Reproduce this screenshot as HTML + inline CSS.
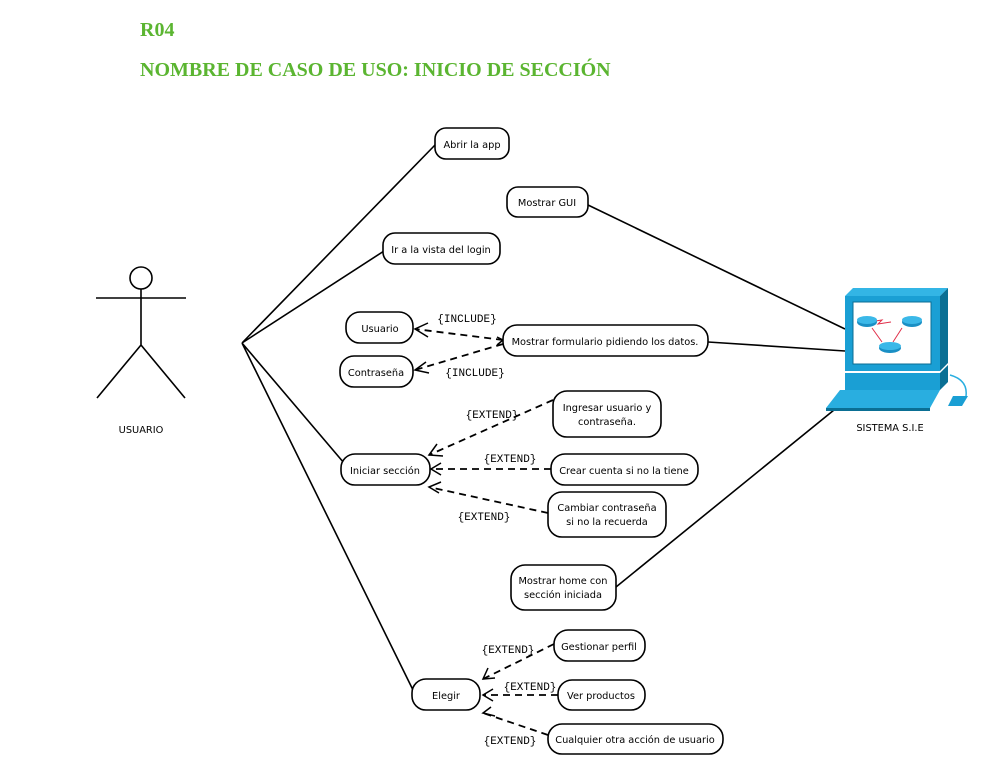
<!DOCTYPE html>
<html><head><meta charset="utf-8"><style>
body{margin:0;background:#fff;width:991px;height:768px;overflow:hidden}
svg{display:block}
.n{fill:#fff;stroke:#000;stroke-width:1.6}
.t{font-family:"DejaVu Sans","Liberation Sans",sans-serif;font-size:9.8px;fill:#000;text-anchor:middle}
.m{font-family:"Liberation Mono",monospace;font-size:11px;fill:#000;text-anchor:middle}
.l{stroke:#000;stroke-width:1.6;fill:none}
.d{stroke:#000;stroke-width:1.8;fill:none;stroke-dasharray:7 5}
.a{stroke:#000;stroke-width:1.5;fill:none}
</style></head><body>
<svg width="991" height="768" viewBox="0 0 991 768">
<text x="140" y="36" font-family="Liberation Serif,serif" font-weight="bold" font-size="20" fill="#5bb531">R04</text>
<text x="140" y="76" font-family="Liberation Serif,serif" font-weight="bold" font-size="20" fill="#5bb531">NOMBRE DE CASO DE USO: INICIO DE SECCIÓN</text>

<circle cx="141" cy="278" r="11" class="l"/>
<path class="l" d="M141 289V345M96 298H186M141 345L97 398M141 345L185 398"/>
<text x="141" y="433" class="t">USUARIO</text>

<path class="l" d="M242 343L436 144M242 343L384 251M242 343L344 463M242 343L413 690"/>
<path class="l" d="M588 205L845 329M708 342L845 351M616 587L834 410"/>

<path class="d" d="M503 340L415 329M503 344L415 370M553 400L429 455M551 469L431 469M548 513L429 487M554 644L483 679M558 695L483 695M548 735L483 713"/>
<path class="a" d="M428 323L415 329L428 337M426 362L415 370L429 373M437 444L429 455L443 456M441 463L431 469L441 475M441 482L429 487L439 493M488 668L483 679L495 678M493 689L483 695L493 701M491 707L483 713L495 716M497 337L503 340L497 345"/>
<text x="467" y="322" class="m">{INCLUDE}</text>
<text x="475" y="376" class="m">{INCLUDE}</text>
<text x="492" y="418" class="m">{EXTEND}</text>
<text x="510" y="462" class="m">{EXTEND}</text>
<text x="484" y="520" class="m">{EXTEND}</text>
<text x="508" y="653" class="m">{EXTEND}</text>
<text x="530" y="690" class="m">{EXTEND}</text>
<text x="510" y="744" class="m">{EXTEND}</text>

<rect class="n" x="435" y="128" width="74" height="31" rx="11"/><text x="472" y="148" class="t">Abrir la app</text>
<rect class="n" x="507" y="187" width="81" height="30" rx="11"/><text x="547" y="206" class="t">Mostrar GUI</text>
<rect class="n" x="383" y="233" width="117" height="31" rx="12"/><text x="441" y="253" class="t">Ir a la vista del login</text>
<rect class="n" x="346" y="312" width="67" height="31" rx="14"/><text x="380" y="332" class="t">Usuario</text>
<rect class="n" x="503" y="325" width="205" height="31" rx="14"/><text x="605" y="345" class="t">Mostrar formulario pidiendo los datos.</text>
<rect class="n" x="340" y="356" width="73" height="31" rx="14"/><text x="376" y="376" class="t">Contraseña</text>
<rect class="n" x="553" y="391" width="108" height="46" rx="14"/><text x="607" y="411" class="t">Ingresar usuario y</text><text x="607" y="425" class="t">contraseña.</text>
<rect class="n" x="341" y="454" width="89" height="31" rx="14"/><text x="385" y="474" class="t">Iniciar sección</text>
<rect class="n" x="551" y="454" width="147" height="31" rx="14"/><text x="624" y="474" class="t">Crear cuenta si no la tiene</text>
<rect class="n" x="548" y="492" width="118" height="45" rx="14"/><text x="607" y="511" class="t">Cambiar contraseña</text><text x="607" y="525" class="t">si no la recuerda</text>
<rect class="n" x="511" y="565" width="105" height="45" rx="14"/><text x="563" y="584" class="t">Mostrar home con</text><text x="563" y="598" class="t">sección iniciada</text>
<rect class="n" x="554" y="630" width="91" height="31" rx="14"/><text x="599" y="650" class="t">Gestionar perfil</text>
<rect class="n" x="412" y="679" width="68" height="31" rx="14"/><text x="446" y="699" class="t">Elegir</text>
<rect class="n" x="558" y="680" width="87" height="30" rx="14"/><text x="601" y="699" class="t">Ver productos</text>
<rect class="n" x="548" y="724" width="175" height="30" rx="14"/><text x="635" y="743" class="t">Cualquier otra acción de usuario</text>

<polygon points="845,296 853,288 948,288 940,296" fill="#33b5e5"/>
<polygon points="940,296 948,288 948,363 940,371" fill="#0a6f94"/>
<rect x="845" y="296" width="95" height="75" fill="#1a9fd4"/>
<rect x="853" y="302" width="78" height="62" fill="#fff" stroke="#0b6c93"/>
<path d="M869 322L882 320L878 324L891 322M872 328L882 342M902 328L893 342" stroke="#e0304a" stroke-width="1" fill="none"/>
<ellipse cx="867" cy="322" rx="10" ry="5" fill="#1a8fc4"/><ellipse cx="867" cy="320" rx="10" ry="4" fill="#3bb8e8"/>
<ellipse cx="912" cy="322" rx="10" ry="5" fill="#1a8fc4"/><ellipse cx="912" cy="320" rx="10" ry="4" fill="#3bb8e8"/>
<ellipse cx="890" cy="348" rx="11" ry="5" fill="#1a8fc4"/><ellipse cx="890" cy="346" rx="11" ry="4" fill="#3bb8e8"/>
<rect x="845" y="373" width="95" height="17" fill="#1a9fd4"/>
<polygon points="940,373 948,365 948,382 940,390" fill="#0a6f94"/>
<polygon points="840,390 940,390 930,408 826,408" fill="#29aee0"/>
<polygon points="826,408 930,408 930,411 826,411" fill="#0a6f94"/>
<path d="M950 375Q968 380 966 396" stroke="#29aee0" stroke-width="1.5" fill="none"/>
<polygon points="953,396 968,396 962,406 948,406" fill="#1a9fd4"/>
<text x="890" y="431" class="t">SISTEMA S.I.E</text>
</svg>
</body></html>
